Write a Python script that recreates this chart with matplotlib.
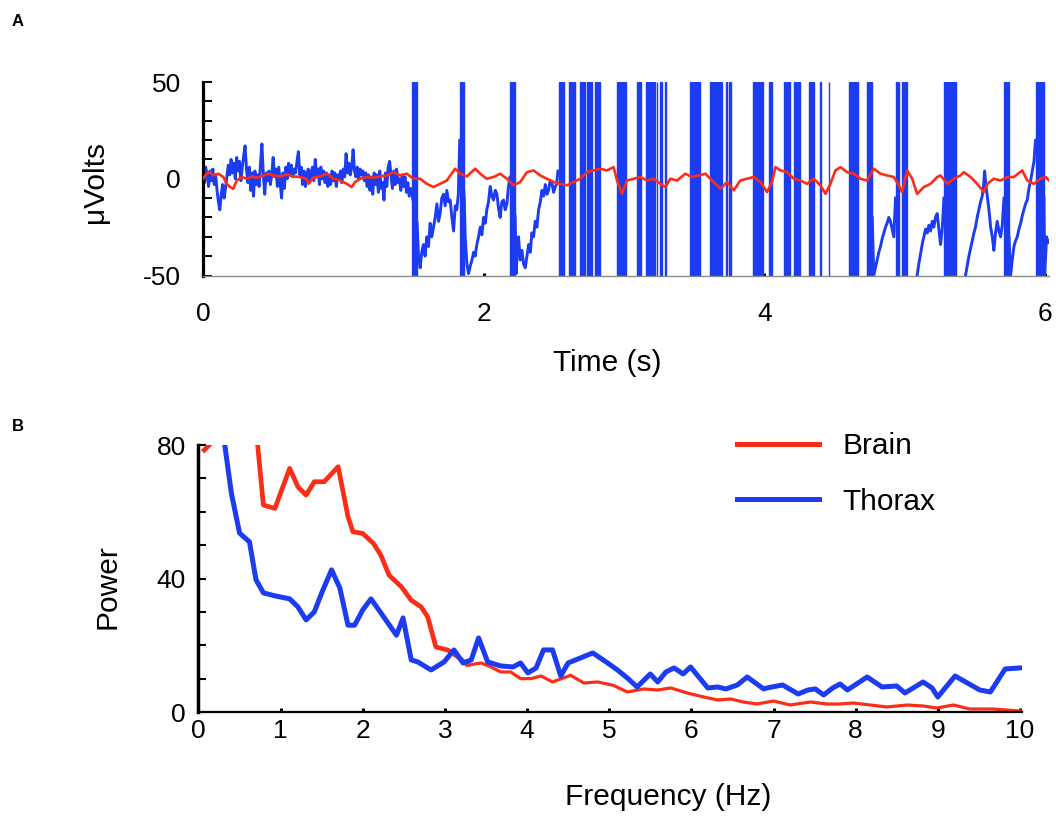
import numpy as np
import matplotlib
matplotlib.use("Agg")
import matplotlib.pyplot as plt
from matplotlib.lines import Line2D

plt.rcParams['font.family'] = ['Liberation Sans', 'DejaVu Sans']
plt.rcParams['axes.unicode_minus'] = False

BLUE = '#1c3cf2'
RED = '#fb2d17'

# ---------------- panel A data ----------------
# thorax trace, first 1.5 s, one value every 10 ms (uVolts)
blue_noise_step = 0.01
blue_noise = [3, -2, 6, 1, -4, 4, -1, 5, -3, 2,
              -6, -12, -16, -8, -3, -10, -5, 1, 7, 2,
              10, 3, 8, 0, 11, 4, 9, -1, 6, 12,
              17, 5, -2, 6, -6, 3, -9, 4, -3, 2,
              -4, 8, 18, 2, -8, 3, -1, 4, -3, 2,
              11, 1, 5, -4, 6, -2, -10, 3, -5, 6,
              0, 8, 2, 7, 1, 5, 3, 9, 14, 2,
              6, -3, 4, -4, 2, 5, -2, 3, 6, -1,
              10, 2, 5, -3, 6, 0, 4, -2, 3, -4,
              2, -3, 4, -1, 3, -4, 2, 0, 4, -2,
              5, 1, 13, 3, 8, 2, 6, 15, 4, 1,
              6, 0, 5, 2, 4, -1, 3, -4, 2, -6,
              1, -8, 3, -3, 2, -7, 4, -5, -2, -11,
              3, -4, 6, 9, 2, -5, 4, -3, 5, -2,
              0, -6, 2, -4, 1, -7, -2, -9, -5, -8]

# thorax trace after 1.5 s: recovery ramps between bursts (nan = off scale)
nan = np.nan
blue_ramp_t = [1.526, 1.536, 1.548, 1.559, 1.571, 1.583, 1.595, 1.607, 1.619, 1.631,
               1.643, 1.655, 1.667, 1.679, 1.690, 1.702, 1.714, 1.726, 1.738, 1.750,
               1.762, 1.774, 1.786, 1.798, 1.809, 1.820, 1.830,
               1.862, 1.869, 1.881, 1.893, 1.905, 1.917, 1.929, 1.940, 1.952, 1.964,
               1.976, 1.988, 2.000, 2.012, 2.023, 2.035, 2.047, 2.059, 2.071, 2.083,
               2.095, 2.106, 2.118, 2.130, 2.142, 2.154, 2.166, 2.176, 2.188,
               2.225, 2.232, 2.240, 2.249, 2.261, 2.273, 2.285, 2.297, 2.309, 2.321,
               2.333, 2.344, 2.356, 2.368, 2.380, 2.392, 2.404, 2.416, 2.428, 2.440,
               2.452, 2.463, 2.475, 2.487, 2.499, 2.511, 2.520, 2.530, 2.531,
               4.770, 4.781, 4.793, 4.805, 4.817, 4.829, 4.841, 4.853, 4.865, 4.876,
               4.888, 4.900, 4.912, 4.924, 4.936, 4.937,
               5.080, 5.090, 5.102, 5.114, 5.126, 5.138, 5.150, 5.162, 5.174, 5.186,
               5.198, 5.209, 5.221, 5.233, 5.245, 5.257, 5.270, 5.281, 5.282,
               5.425, 5.435, 5.447, 5.459, 5.471, 5.483, 5.495, 5.506, 5.518, 5.530,
               5.542, 5.554, 5.563, 5.571, 5.580, 5.590, 5.602, 5.614, 5.626, 5.637,
               5.649, 5.661, 5.673, 5.685, 5.697, 5.709, 5.710,
               5.745, 5.756, 5.768, 5.780, 5.792, 5.804, 5.816, 5.828, 5.840, 5.851,
               5.863, 5.875, 5.887, 5.899, 5.911, 5.923, 5.934,
               5.994, 5.999, 6.006, 6.013, 6.020, 6.030, 6.041]
blue_ramp_v = [-23, -40, -46, -38, -34, -40, -30, -35, -23, -30,
               -25, -20, -13, -22, -18, -10, -8, -14, -6, -12,
               -11, -20, -27, -14, -16, -8, 20,
               -10, -30, -44, -49, -45, -42, -38, -40, -34, -30,
               -25, -29, -20, -23, -16, -12, -4, -9, -11, -6,
               -8, -15, -20, -12, -11, -16, -13, -5, 1,
               -20, -49, -38, -30, -42, -37, -44, -46, -40, -34,
               -38, -28, -30, -22, -25, -16, -12, -6, -9, -3,
               -8, -6, -1, -2, -7, -4, -3, 4, nan,
               -20, -50, -46, -42, -38, -35, -31, -28, -25, -23,
               -20, -22, -26, -30, -10, nan,
               -60, -50, -44, -39, -34, -30, -26, -28, -24, -27,
               -22, -25, -20, -18, -26, -34, -25, -10, nan,
               -60, -50, -45, -40, -36, -32, -28, -25, -20, -16,
               -12, -9, -4, 4, -3, -9, -16, -25, -30, -37,
               -28, -22, -27, -30, -24, -10, nan,
               -30, -50, -42, -35, -32, -30, -26, -23, -19, -16,
               -13, -11, -5, -1, 4, 9, 20,
               -10, -50, -40, -30, -33, -32, -34]

# saturating bursts of the thorax signal (start, end) in s
thorax_bursts = [(1.490, 1.525), (1.830, 1.862), (2.188, 2.225), (2.534, 2.570),
                 (2.606, 2.653), (2.689, 2.725), (2.736, 2.772), (2.796, 2.832),
                 (2.950, 3.015), (3.093, 3.122), (3.160, 3.224), (3.236, 3.238),
                 (3.260, 3.272), (3.295, 3.297), (3.474, 3.545), (3.617, 3.700),
                 (3.730, 3.732), (3.747, 3.766), (3.917, 3.989), (4.032, 4.056),
                 (4.139, 4.187), (4.211, 4.258), (4.318, 4.353), (4.401, 4.403),
                 (4.460, 4.462), (4.608, 4.670), (4.734, 4.770), (4.936, 4.960),
                 (4.983, 5.019), (5.281, 5.364), (5.709, 5.745), (5.934, 5.994)]

# brain trace (uVolts)
red_t = [0.000, 0.026, 0.050, 0.074, 0.109, 0.145, 0.169, 0.193, 0.216, 0.240,
         0.276, 0.311, 0.347, 0.383, 0.430, 0.466, 0.502, 0.549, 0.597, 0.644,
         0.692, 0.739, 0.751, 0.787, 0.835, 0.882, 0.930, 0.977, 1.025, 1.060,
         1.084, 1.120, 1.167, 1.215, 1.262, 1.310, 1.358, 1.405, 1.453, 1.500,
         1.548, 1.595, 1.643, 1.690, 1.738, 1.797, 1.833, 1.881, 1.940, 1.976,
         2.023, 2.071, 2.118, 2.166, 2.213, 2.261, 2.309, 2.356, 2.404, 2.451,
         2.499, 2.546, 2.594, 2.641, 2.689, 2.737, 2.784, 2.832, 2.879, 2.927,
         2.951, 2.986, 3.022, 3.069, 3.117, 3.165, 3.212, 3.260, 3.295, 3.331,
         3.379, 3.438, 3.486, 3.533, 3.581, 3.616, 3.664, 3.688, 3.735, 3.783,
         3.830, 3.878, 3.925, 3.973, 4.020, 4.056, 4.080, 4.116, 4.163, 4.211,
         4.258, 4.306, 4.353, 4.401, 4.437, 4.472, 4.508, 4.544, 4.591, 4.639,
         4.686, 4.734, 4.781, 4.829, 4.876, 4.924, 4.960, 4.983, 5.019, 5.055,
         5.090, 5.138, 5.186, 5.233, 5.257, 5.304, 5.352, 5.399, 5.423, 5.471,
         5.518, 5.566, 5.590, 5.637, 5.685, 5.733, 5.780, 5.839, 5.875, 5.922,
         5.970, 6.006, 6.041]
red_v = [0.0, 2.6, 3.4, 1.7, 2.6, 0.9, -2.6, -4.3, -5.2, -0.9,
         0.9, 0.0, 1.2, 0.5, 1.7, 2.6, 1.7, 1.2, 2.2, 1.2,
         0.9, 0.0, -2.6, 0.5, 1.2, 2.6, 0.0, -0.9, -2.6, -4.3,
         -1.7, 0.0, 0.9, 0.5, 1.2, 1.7, 3.4, 1.7, 2.6, 0.0,
         0.0, -2.6, -4.3, -2.6, -0.9, 5.2, 2.6, 1.2, 5.2, 2.6,
         0.0, 0.9, 2.6, 0.0, -3.4, -1.7, 3.4, 4.3, 1.7, 0.0,
         -1.7, -2.6, -3.4, -1.7, 0.0, 3.4, 4.3, 5.2, 4.3, 6.0,
         -0.9, -7.8, -0.9, 0.0, 0.9, -0.9, 0.0, -2.6, -4.3, 0.0,
         -0.9, 2.6, 0.9, 1.7, 2.6, 0.0, -3.4, -5.2, -1.7, -6.0,
         -0.9, 0.0, 0.9, -1.7, -6.9, -1.7, 6.0, 4.3, 3.4, 0.0,
         -0.9, -2.6, 0.0, -3.4, -7.8, -2.6, 4.3, 6.0, 3.4, 2.6,
         0.0, -0.9, 5.2, 2.6, 1.7, 0.9, -3.4, -6.9, 4.3, 0.0,
         -7.8, -4.3, -2.6, 0.9, 1.7, -2.6, 0.0, 1.7, 3.4, 0.9,
         -2.6, -6.9, -2.6, 0.0, -0.9, 0.9, 0.9, 4.3, -0.9, -2.6,
         0.0, 0.9, -1.7]

# ---------------- panel B data (power spectra) ----------------
brain_f = [0.05, 0.15, 0.30, 0.50, 0.65, 0.72, 0.79, 0.93, 1.11, 1.21,
           1.31, 1.41, 1.53, 1.70, 1.82, 1.88, 2.00, 2.13, 2.22, 2.32,
           2.47, 2.59, 2.71, 2.79, 2.89, 3.04, 3.16, 3.28, 3.44, 3.56,
           3.68, 3.80, 3.92, 4.05, 4.17, 4.31, 4.53, 4.69, 4.86, 5.05,
           5.22, 5.42, 5.59, 5.75, 5.95, 6.15, 6.32, 6.48, 6.63, 6.80,
           7.00, 7.20, 7.45, 7.65, 7.81, 7.97, 8.18, 8.38, 8.63, 8.82,
           8.99, 9.19, 9.39, 9.67, 10.0]
brain_p = [78.0, 80.5, 100, 110, 95, 80, 62, 61, 73, 67.5,
           65, 69, 69, 73.5, 58.5, 54, 53.5, 50.5, 47, 41,
           37.5, 33.5, 31.5, 28.5, 19.5, 18.5, 16.5, 14, 14.7, 13.5,
           12, 12, 10, 10, 10.8, 9, 11, 8.7, 9, 8,
           6, 6.9, 6.6, 7.2, 5.7, 4.5, 3.6, 3.9, 3, 2.4,
           3.3, 2.1, 3, 2.4, 2.4, 2.7, 2.1, 1.5, 2.1, 1.8,
           1.2, 2.1, 0.9, 0.9, 0.3]
thorax_f = [0.10, 0.20, 0.32, 0.40, 0.50, 0.62, 0.70, 0.79, 0.93, 1.11,
            1.21, 1.31, 1.41, 1.50, 1.62, 1.72, 1.82, 1.90, 2.00, 2.10,
            2.22, 2.41, 2.49, 2.59, 2.67, 2.83, 2.99, 3.11, 3.22, 3.32,
            3.41, 3.52, 3.68, 3.83, 3.92, 4.01, 4.11, 4.20, 4.31, 4.41,
            4.50, 4.62, 4.80, 4.98, 5.10, 5.22, 5.34, 5.50, 5.59, 5.69,
            5.79, 5.90, 5.99, 6.20, 6.32, 6.42, 6.56, 6.68, 6.88, 6.92,
            7.11, 7.30, 7.42, 7.51, 7.61, 7.72, 7.81, 7.90, 8.14, 8.32,
            8.50, 8.60, 8.82, 8.93, 9.00, 9.21, 9.36, 9.51, 9.64, 9.82,
            10.0]
thorax_p = [140, 100, 80, 65.6, 53.6, 51, 39.6, 35.7, 34.8, 33.9,
            31.5, 27.6, 30, 35.7, 42.6, 37.2, 26, 26, 30.6, 33.9,
            29.7, 23, 28.2, 15.6, 15, 12.6, 15, 18.6, 14.7, 15.6,
            22.2, 15, 13.8, 13.5, 14.7, 11.7, 13.2, 18.6, 18.6, 10.8,
            14.7, 15.9, 17.7, 14.7, 12.6, 10.2, 7.5, 11.4, 9, 12,
            13.2, 11.4, 13.5, 7.2, 7.5, 6.9, 8.1, 10.5, 6.9, 7.2,
            8.1, 5.4, 6.6, 6.9, 5.1, 7.2, 8.4, 6.6, 10.5, 7.5,
            7.8, 5.7, 9, 7.2, 4.5, 10.8, 8.7, 6.6, 6, 12.9,
            13.2]

fig = plt.figure(figsize=(10.56, 8.26), dpi=100)

# ---------------- panel A ----------------
axA = fig.add_axes([0.19223, 0.66646, 0.80114, 0.23426])
noise_t = np.arange(len(blue_noise)) * blue_noise_step
blue_t = np.concatenate([noise_t, blue_ramp_t])
blue_v = np.concatenate([blue_noise, blue_ramp_v])
axA.plot(blue_t, blue_v, color=BLUE, lw=2.1, zorder=2)
for t0, t1 in thorax_bursts:
    axA.axvspan(t0, t1, color=BLUE, lw=1.0, zorder=2)
axA.plot(red_t, red_v, color=RED, lw=1.9, zorder=3)

axA.set_xlim(0, 6.03)
axA.set_ylim(-50, 50)
axA.spines['top'].set_visible(False)
axA.spines['right'].set_visible(False)
axA.spines['left'].set_linewidth(2.3)
axA.spines['bottom'].set_color('#8a8a8a')
axA.spines['bottom'].set_linewidth(1.0)
axA.set_yticks([-50, 0, 50])
axA.set_yticks(range(-50, 51, 10), minor=True)
axA.tick_params(axis='y', which='both', direction='in', length=6.5, width=1.4,
                labelsize=19, pad=16)
axA.set_xticks([0, 2, 4, 6])
axA.tick_params(axis='x', direction='in', length=2.5, width=2.2,
                labelsize=19, pad=19)

# ---------------- panel B ----------------
axB = fig.add_axes([0.18797, 0.13801, 0.77945, 0.32324])
split = brain_f.index(3.28)
axB.plot(brain_f[:split + 1], brain_p[:split + 1], color=RED, lw=3.4,
         solid_capstyle='butt')
axB.plot(brain_f[split:], brain_p[split:], color=RED, lw=2.3)
axB.plot(thorax_f, thorax_p, color=BLUE, lw=3.6)

axB.set_xlim(0.03, 10.02)
axB.set_ylim(0, 80)
axB.spines['top'].set_visible(False)
axB.spines['right'].set_visible(False)
axB.spines['left'].set_linewidth(2.5)
axB.spines['bottom'].set_linewidth(1.6)
axB.set_yticks([0, 40, 80])
axB.set_yticks(range(0, 81, 10), minor=True)
axB.tick_params(axis='y', which='both', direction='in', length=6, width=1.5,
                labelsize=19, pad=9)
axB.set_xticks(range(0, 11))
axB.tick_params(axis='x', direction='in', length=3, width=2.2,
                labelsize=19, pad=5)

handles = [Line2D([], [], color=RED, lw=3.6, label='Brain'),
           Line2D([], [], color=BLUE, lw=3.6, label='Thorax')]
axB.legend(handles=handles, loc='upper left',
           bbox_to_anchor=(737 / 1056, 1 - 432 / 826),
           bbox_transform=fig.transFigure, frameon=False, fontsize=21.5,
           handlelength=2.75, handletextpad=0.78, labelspacing=0.93,
           borderpad=0, borderaxespad=0)

# axis titles and panel letters
fig.text(95 / 1056, 1 - 182 / 826, 'μVolts', rotation=90, ha='center',
         va='center', fontsize=21.5)
fig.text(607 / 1056, 1 - 363 / 826, 'Time (s)', ha='center', va='center',
         fontsize=21.5)
fig.text(108 / 1056, 1 - 587 / 826, 'Power', rotation=90, ha='center',
         va='center', fontsize=21.5)
fig.text(668 / 1056, 1 - 797 / 826, 'Frequency (Hz)', ha='center',
         va='center', fontsize=21.5)
fig.text(18 / 1056, 1 - 21 / 826, 'A', ha='center', va='center',
         fontsize=12, fontweight='bold')
fig.text(18 / 1056, 1 - 426 / 826, 'B', ha='center', va='center',
         fontsize=12, fontweight='bold')

fig.savefig('out.png', dpi=100)
